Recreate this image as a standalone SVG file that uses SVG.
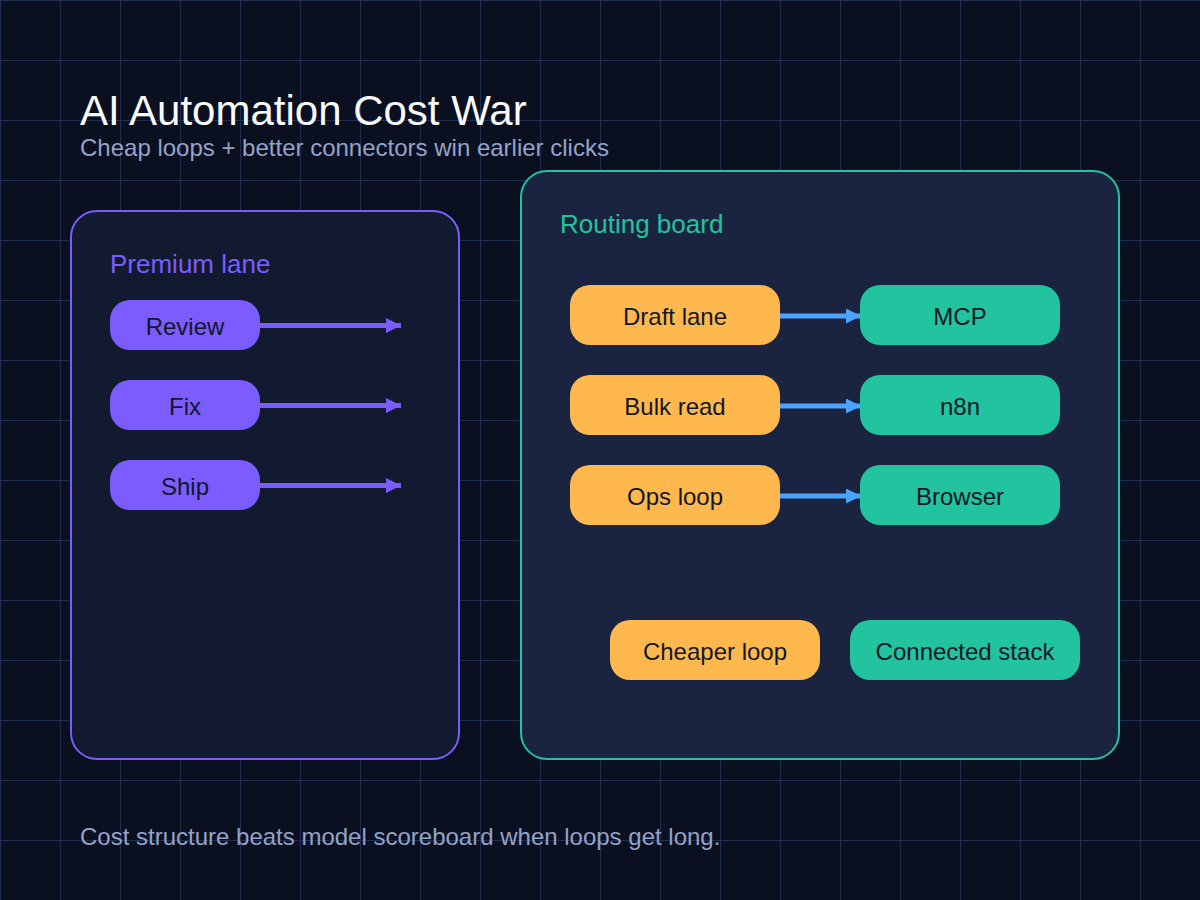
<svg xmlns="http://www.w3.org/2000/svg" width="1200" height="900" viewBox="0 0 1200 900">
<defs>
<pattern id="grid" width="60" height="60" patternUnits="userSpaceOnUse">
<rect x="0" y="0" width="1" height="60" fill="#1f2d50"/>
<rect x="0" y="0" width="60" height="1" fill="#1f2d50"/>
</pattern>
<marker id="ap" viewBox="0 0 10 10" refX="10" refY="5" markerWidth="3" markerHeight="3" orient="auto" markerUnits="strokeWidth"><path d="M0 0 L10 5 L0 10 Z" fill="#7c5cff"/></marker>
<marker id="ab" viewBox="0 0 10 10" refX="10" refY="5" markerWidth="3" markerHeight="3" orient="auto" markerUnits="strokeWidth"><path d="M0 0 L10 5 L0 10 Z" fill="#4aa3ff"/></marker>
<style>
text{font-family:"Liberation Sans",Arial,sans-serif}
.lbl{font-size:24px;fill:#111827;text-anchor:middle}
.pp{fill:#7c5cff}
.or{fill:#ffb84d}
.gr{fill:#22c39f}
.lp{stroke:#7c5cff;stroke-width:5;fill:none}
.lb{stroke:#4aa3ff;stroke-width:5;fill:none}
</style>
</defs>
<rect width="1200" height="900" fill="#0b1020"/>
<rect width="1200" height="900" fill="url(#grid)"/>
<text x="80" y="125" font-size="42" fill="#f8fafc">AI Automation Cost War</text>
<text x="80" y="156" font-size="24" fill="#94a3c8">Cheap loops + better connectors win earlier clicks</text>
<g id="premium-lane">
<rect x="71" y="211" width="388" height="548" rx="26" fill="#111a2e" stroke="#7c5cff" stroke-width="2"/>
<text x="110" y="273" font-size="26" fill="#7c5cff">Premium lane</text>
</g>
<g id="routing-board">
<rect x="521" y="171" width="598" height="588" rx="26" fill="#1a2440" stroke="#22c39f" stroke-width="2"/>
<text x="560" y="233" font-size="26" fill="#22c39f">Routing board</text>
</g>
<g id="connectors">
<line class="lp" x1="260" y1="325.5" x2="401" y2="325.5" marker-end="url(#ap)"/>
<line class="lp" x1="260" y1="405.5" x2="401" y2="405.5" marker-end="url(#ap)"/>
<line class="lp" x1="260" y1="485.5" x2="401" y2="485.5" marker-end="url(#ap)"/>
<line class="lb" x1="780" y1="316" x2="861" y2="316" marker-end="url(#ab)"/>
<line class="lb" x1="780" y1="406" x2="861" y2="406" marker-end="url(#ab)"/>
<line class="lb" x1="780" y1="496" x2="861" y2="496" marker-end="url(#ab)"/>
</g>
<g id="review"><rect class="pp" x="110" y="300" width="150" height="50" rx="20"/><text class="lbl" x="185" y="335">Review</text></g>
<g id="fix"><rect class="pp" x="110" y="380" width="150" height="50" rx="20"/><text class="lbl" x="185" y="415">Fix</text></g>
<g id="ship"><rect class="pp" x="110" y="460" width="150" height="50" rx="20"/><text class="lbl" x="185" y="495">Ship</text></g>
<g id="draft-lane"><rect class="or" x="570" y="285" width="210" height="60" rx="20"/><text class="lbl" x="675" y="325">Draft lane</text></g>
<g id="bulk-read"><rect class="or" x="570" y="375" width="210" height="60" rx="20"/><text class="lbl" x="675" y="415">Bulk read</text></g>
<g id="ops-loop"><rect class="or" x="570" y="465" width="210" height="60" rx="20"/><text class="lbl" x="675" y="505">Ops loop</text></g>
<g id="mcp"><rect class="gr" x="860" y="285" width="200" height="60" rx="20"/><text class="lbl" x="960" y="325">MCP</text></g>
<g id="n8n"><rect class="gr" x="860" y="375" width="200" height="60" rx="20"/><text class="lbl" x="960" y="415">n8n</text></g>
<g id="browser"><rect class="gr" x="860" y="465" width="200" height="60" rx="20"/><text class="lbl" x="960" y="505">Browser</text></g>
<g id="cheaper-loop"><rect class="or" x="610" y="620" width="210" height="60" rx="20"/><text class="lbl" x="715" y="660">Cheaper loop</text></g>
<g id="connected-stack"><rect class="gr" x="850" y="620" width="230" height="60" rx="20"/><text class="lbl" x="965" y="660">Connected stack</text></g>
<text x="80" y="845" font-size="24" fill="#94a3c8">Cost structure beats model scoreboard when loops get long.</text>
</svg>
